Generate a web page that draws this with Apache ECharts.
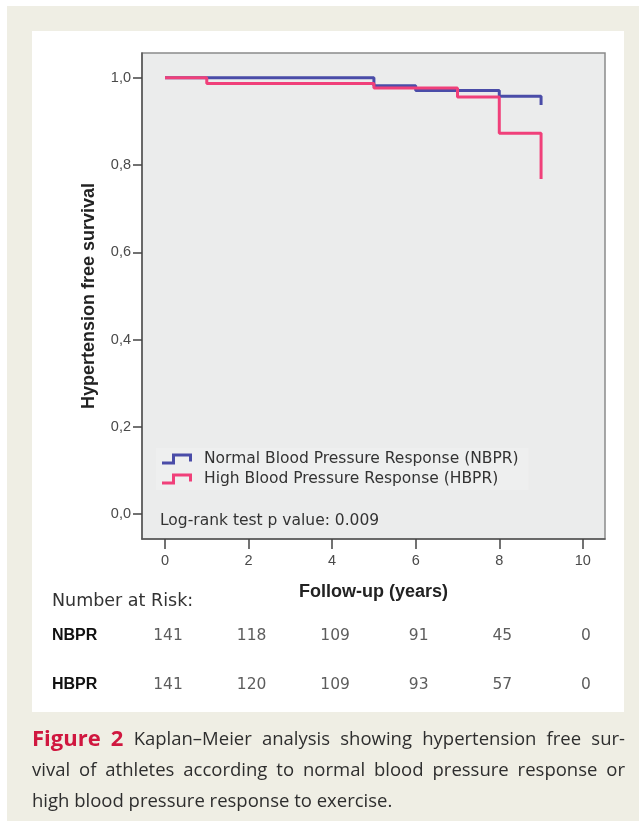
<!DOCTYPE html>
<html><head><meta charset="utf-8">
<script src="https://cdn.jsdelivr.net/npm/echarts@6/dist/echarts.min.js"></script>
<style>
html,body{margin:0;padding:0;background:#fff;width:639px;height:821px;overflow:hidden;}
#bg{position:absolute;left:7px;top:6px;width:632px;height:815px;background:#efeee4;}
#panel{position:absolute;left:32px;top:31px;width:592px;height:681px;background:#fff;}
#chart{position:absolute;left:0;top:0;width:639px;height:821px;}
</style></head><body>
<div id="bg"></div><div id="panel"></div><div id="chart"></div>
<script>
// ---- data ----
const nbprTimes = [0, 5, 6, 8, 9];
const nbprSurvival = [1.0, 0.982, 0.971, 0.958, 0.938];
const hbprTimes = [0, 1, 5, 7, 8, 9];
const hbprSurvival = [1.0, 0.987, 0.977, 0.956, 0.873, 0.768];
const yTicks = [0, 0.2, 0.4, 0.6, 0.8, 1.0];
const xTicks = [0, 2, 4, 6, 8, 10];
const riskTimes = [0, 2, 4, 6, 8, 10];
const riskGroups = ['NBPR', 'HBPR'];
const nbprAtRisk = [141, 118, 109, 91, 45, 0];
const hbprAtRisk = [141, 120, 109, 93, 57, 0];
const seriesNames = ['Normal Blood Pressure Response (NBPR)', 'High Blood Pressure Response (HBPR)'];
const captionLines = [
  'Kaplan\u2013Meier analysis showing hypertension free sur-',
  'vival of athletes according to normal blood pressure response or',
  'high blood pressure response to exercise.'
];

const BLUE = '#4a4ca8', PINK = '#f0407a';
const stepIcon = 'path://M0,8L10,8L10,0L30,0L30,8L27,8L27,3L13,3L13,11L0,11Z';

const chart = echarts.init(document.getElementById('chart'), null, {renderer: 'canvas'});

// caption layout (justify words)
const ctx = document.createElement('canvas').getContext('2d');
const capFont = '18.5px "Open Sans"';
const figFont = 'bold 22px "Open Sans"';
function measure(t, f) { ctx.font = f; return ctx.measureText(t).width; }
const captionGraphics = [];
const lineY = [740, 771, 802];
const X0 = 32, X1 = 625;
captionLines.forEach((line, li) => {
  let words = line.split(' ').map(w => ({t: w, f: capFont, c: '#2e2e2e'}));
  if (li === 0) words = [{t: 'Figure', f: figFont, c: '#d0173f'}, {t: '2', f: figFont, c: '#d0173f'}].concat(words);
  const widths = words.map(w => measure(w.t, w.f));
  const total = widths.reduce((a, b) => a + b, 0);
  const gap = li < 2 ? (X1 - X0 - total) / (words.length - 1) : measure(' ', capFont);
  let x = X0;
  words.forEach((w, i) => {
    captionGraphics.push({type: 'text', x: x, y: lineY[li], silent: true,
      style: {text: w.t, font: w.f, fill: w.c, textAlign: 'left', textVerticalAlign: 'middle', align: 'left', verticalAlign: 'middle'}});
    x += widths[i] + gap;
  });
});

const tickFont = {fontFamily: 'Liberation Sans', fontSize: 14.5, color: '#4a4a4a'};
const geoFont = '"DejaVu Sans"';
const titleFont = {fontFamily: 'Liberation Sans', fontWeight: 'bold', fontSize: 18, color: '#222'};

const option = {
  animation: false,
  grid: [
    {left: 142, top: 53, width: 463, height: 486, show: true, backgroundColor: '#ebecec', borderColor: '#8a8a8a', borderWidth: 1.5},
    {left: 142, top: 611, width: 463, height: 98, show: false}
  ],
  xAxis: [
    {gridIndex: 0, type: 'value', min: -0.55, max: 10.53,
      axisLine: {show: true, onZero: false, lineStyle: {color: '#555', width: 1.5}},
      axisTick: {show: true, length: 10, customValues: xTicks, lineStyle: {color: '#444', width: 1.5}},
      axisLabel: Object.assign({customValues: xTicks, margin: 14}, tickFont),
      splitLine: {show: false},
      name: 'Follow-up (years)', nameLocation: 'middle', nameGap: 44, nameTextStyle: titleFont},
    {gridIndex: 1, type: 'value', min: -0.55, max: 10.53, show: false}
  ],
  yAxis: [
    {gridIndex: 0, type: 'value', min: -0.057, max: 1.057,
      axisLine: {show: true, onZero: false, lineStyle: {color: '#555', width: 1.5}},
      axisTick: {show: true, length: 9, customValues: yTicks, lineStyle: {color: '#444', width: 1.5}},
      axisLabel: Object.assign({customValues: yTicks, margin: 11, formatter: v => v.toFixed(1).replace('.', ',')}, tickFont),
      splitLine: {show: false},
      name: 'Hypertension free survival', nameLocation: 'middle', nameGap: 44, nameTextStyle: titleFont},
    {gridIndex: 1, type: 'category', data: riskGroups, inverse: true,
      axisLine: {show: false}, axisTick: {show: false}, splitLine: {show: false},
      axisLabel: {margin: 90, align: 'left', fontFamily: 'Liberation Sans', fontWeight: 'bold', fontSize: 16, color: '#111'}}
  ],
  legend: {
    orient: 'vertical', left: 156, top: 448, padding: [3, 10, 3, 6],
    backgroundColor: '#eeefef',
    itemWidth: 30, itemHeight: 11, itemGap: 4,
    textStyle: {fontFamily: geoFont, fontSize: 15.5, lineHeight: 16, color: '#333', padding: [0, 0, 0, 7]},
    data: [{name: seriesNames[0], icon: stepIcon}, {name: seriesNames[1], icon: stepIcon}]
  },
  series: [
    {name: seriesNames[0], type: 'line', step: 'end', showSymbol: false, color: BLUE,
      lineStyle: {width: 3, color: BLUE}, xAxisIndex: 0, yAxisIndex: 0,
      data: nbprTimes.map((t, i) => [t, nbprSurvival[i]])},
    {name: seriesNames[1], type: 'line', step: 'end', showSymbol: false, color: PINK,
      lineStyle: {width: 3, color: PINK}, xAxisIndex: 0, yAxisIndex: 0,
      data: hbprTimes.map((t, i) => [t, hbprSurvival[i]])},
    {type: 'scatter', xAxisIndex: 1, yAxisIndex: 1, symbolSize: 0, silent: true,
      label: {show: true, position: 'inside', offset: [3, 0], formatter: p => String(p.value[2]), fontFamily: geoFont, fontSize: 15.5, color: '#333'},
      data: riskTimes.map((t, i) => [t, 0, nbprAtRisk[i]]).concat(riskTimes.map((t, i) => [t, 1, hbprAtRisk[i]]))}
  ],
  graphic: [
    {type: 'text', x: 160, y: 521, silent: true,
      style: {text: 'Log-rank test p value: 0.009', font: '15.5px ' + geoFont, fill: '#333', textAlign: 'left', textVerticalAlign: 'middle', align: 'left', verticalAlign: 'middle'}},
    {type: 'text', x: 52, y: 601, silent: true,
      style: {text: 'Number at Risk:', font: '17.5px ' + geoFont, fill: '#333', textAlign: 'left', textVerticalAlign: 'middle', align: 'left', verticalAlign: 'middle'}}
  ].concat(captionGraphics)
};
chart.setOption(option);
</script>
</body></html>
